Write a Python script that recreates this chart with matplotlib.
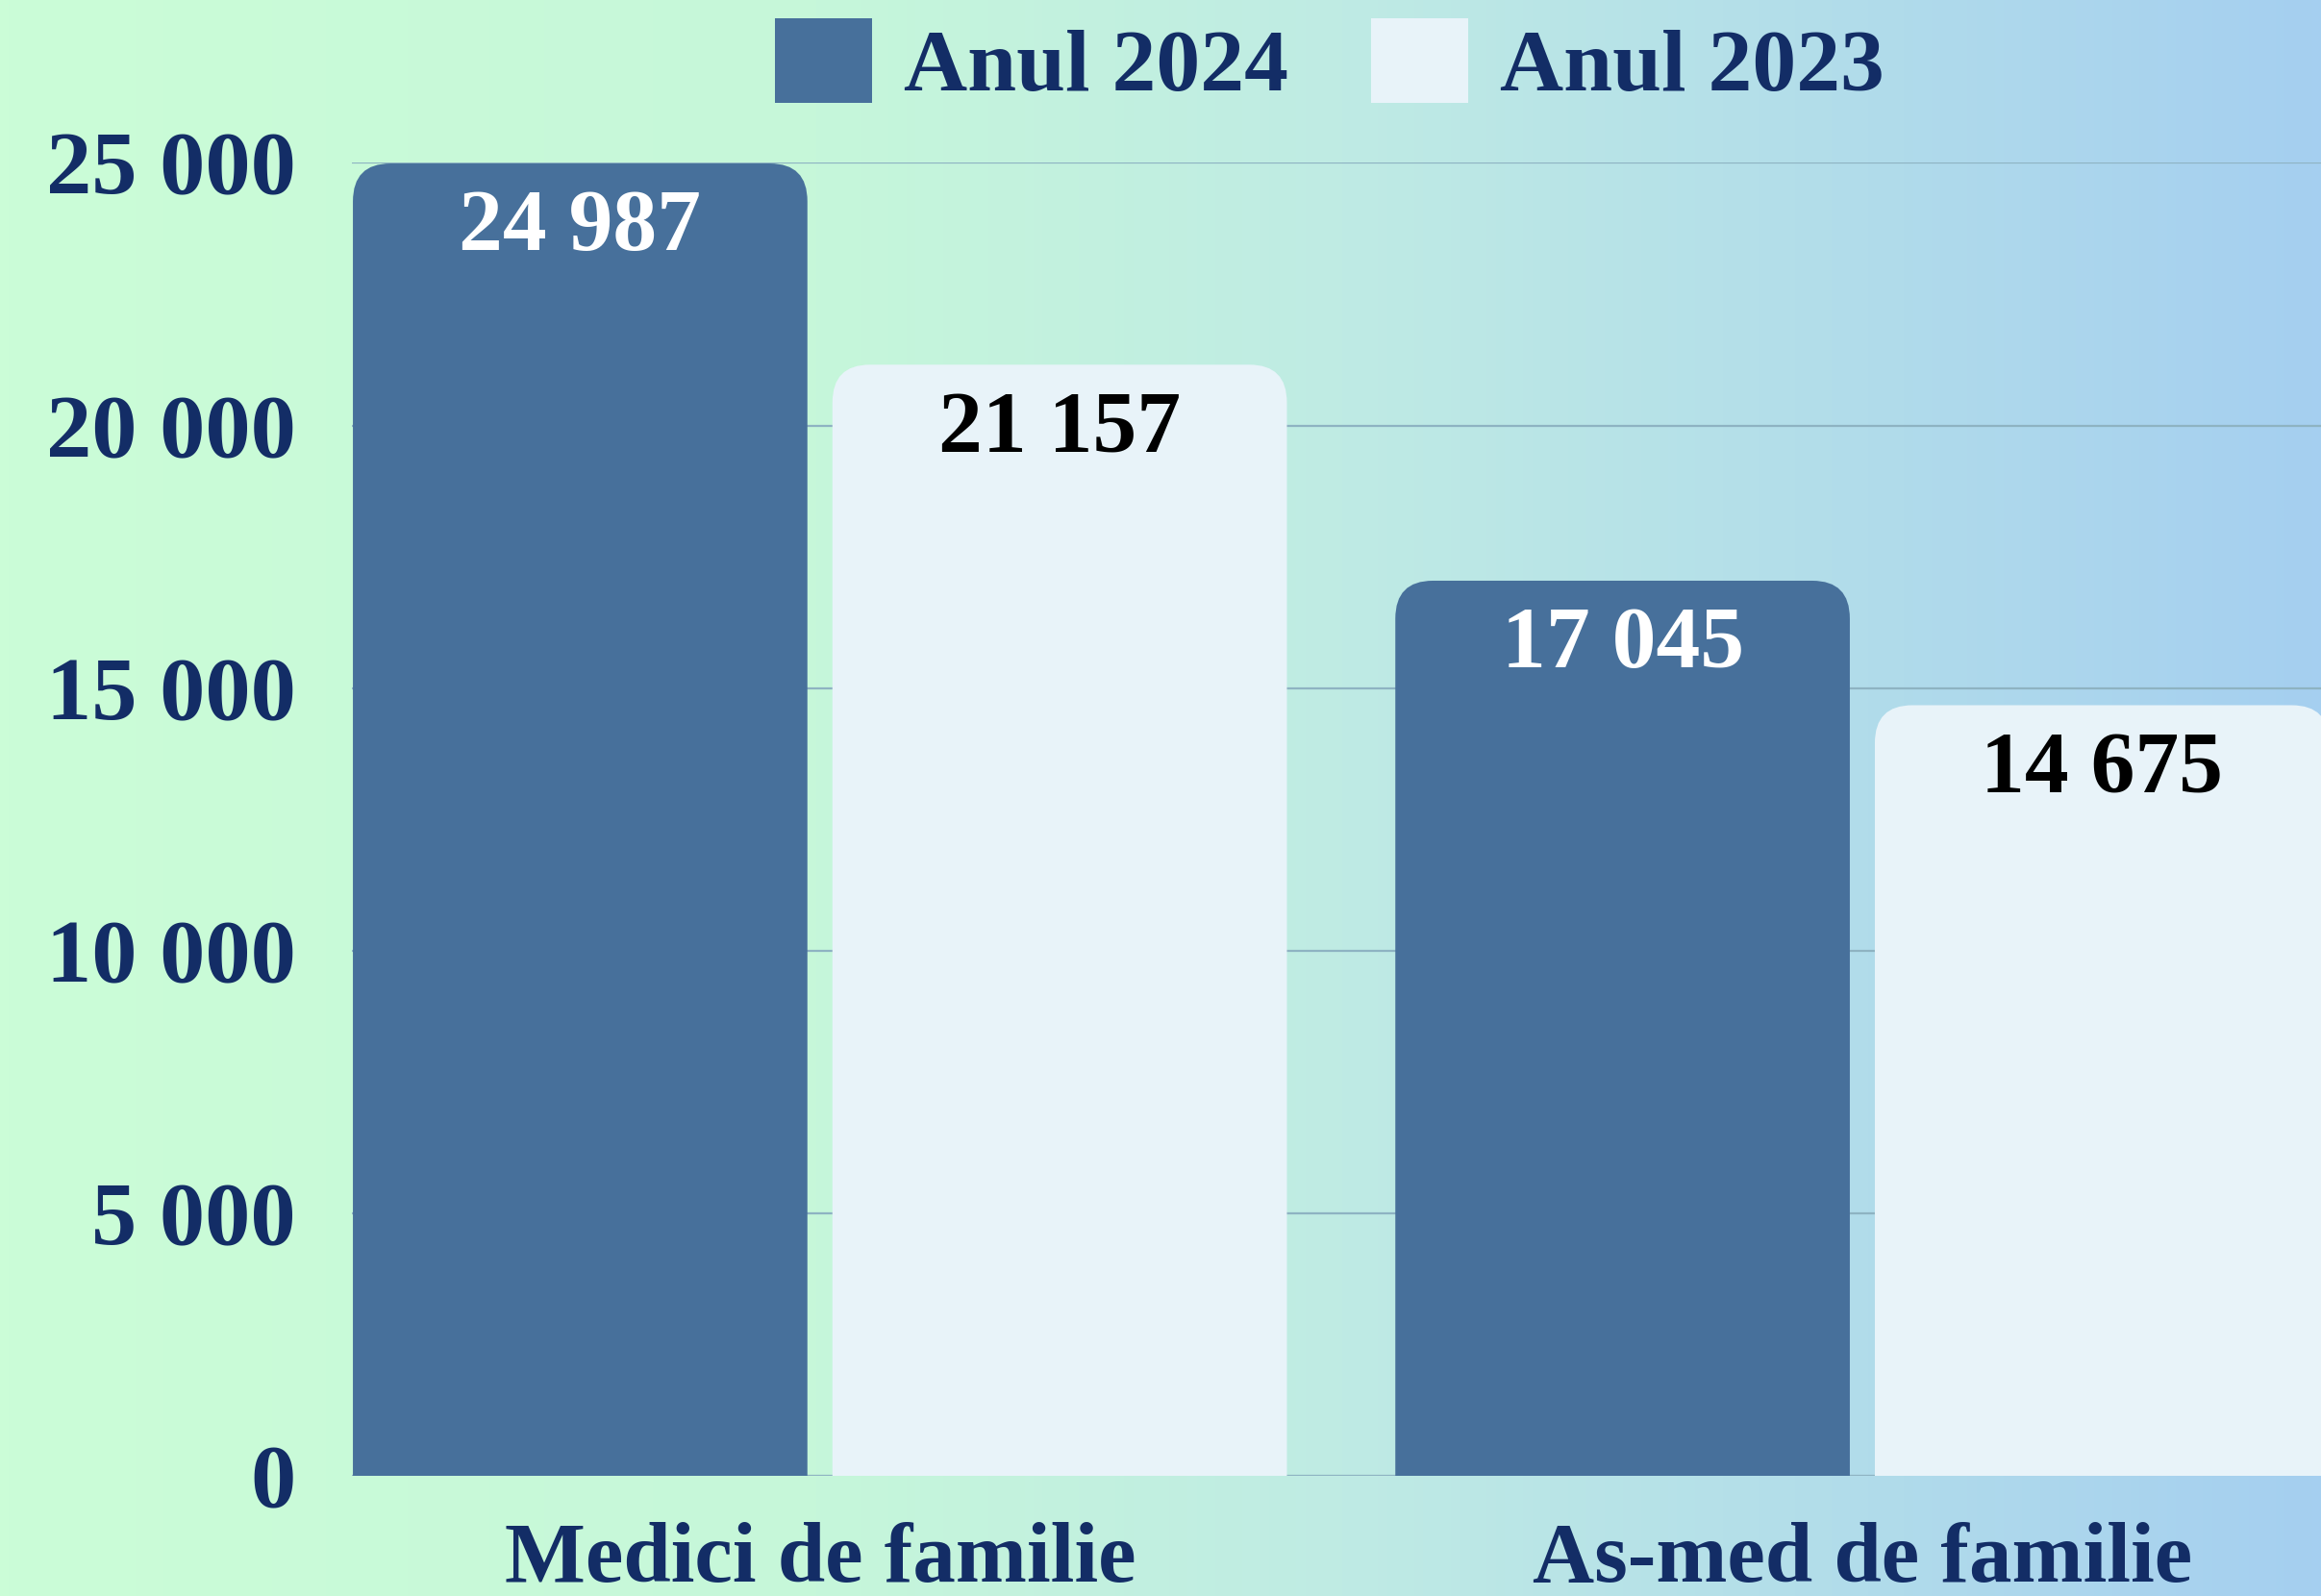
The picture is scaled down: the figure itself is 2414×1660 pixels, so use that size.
import numpy as np
import matplotlib
matplotlib.use("Agg")
import matplotlib.pyplot as plt
from matplotlib.patches import FancyBboxPatch, Patch
from matplotlib.colors import LinearSegmentedColormap

categories = ["Medici de familie", "As-med de familie"]
series_names = ["Anul 2024", "Anul 2023"]
values_2024 = [24987, 17045]
values_2023 = [21157, 14675]
value_labels_2024 = ["24 987", "17 045"]
value_labels_2023 = ["21 157", "14 675"]
yticks = [0, 5000, 10000, 15000, 20000, 25000]
ytick_labels = ["0", "5 000", "10 000", "15 000", "20 000", "25 000"]

DARK = "#47709B"
LIGHT = "#E8F3F9"
NAVY = "#132D66"
GRID = "#8EB3C2"
FONT = ["Liberation Serif", "DejaVu Serif"]

fig = plt.figure(figsize=(24.14, 16.6), dpi=100)

# gradient background
bg = fig.add_axes([0, 0, 1, 1], zorder=-10)
cmap = LinearSegmentedColormap.from_list(
    "bg", [(0.0, "#CBFDD7"), (0.35, "#C6F7DA"), (0.58, "#BFEBE4"), (1.0, "#A5CFF0")])
bg.imshow(np.linspace(0, 1, 512)[None, :], aspect="auto", cmap=cmap,
          extent=[0, 1, 0, 1])
bg.set_axis_off()

ax = fig.add_axes([0.1516, 0.0751, 0.8484, 0.8229])
ax.patch.set_alpha(0)

width = 0.436
off = 0.230
x = np.arange(len(categories))
ax.set_xlim(-0.449, 1.440)
ax.set_ylim(0, 25000)

ax.set_yticks(yticks, ytick_labels)
for y in yticks:
    ax.axhline(y, color=GRID, lw=1.6, zorder=0)

rad_x = 0.036
aspect = 20000


def rbar(xc, val, color):
    p = FancyBboxPatch((xc - width / 2, -3000), width, val + 3000,
                       boxstyle=f"round,pad=0,rounding_size={rad_x}",
                       mutation_aspect=aspect, facecolor=color,
                       edgecolor="none", zorder=2)
    ax.add_patch(p)
    p.set_clip_path(ax.patch)
    return p


for i in range(len(categories)):
    rbar(x[i] - off, values_2024[i], DARK)
    rbar(x[i] + off, values_2023[i], LIGHT)
    ax.text(x[i] - off, values_2024[i] - 1250, value_labels_2024[i],
            ha="center", va="center", color="white", fontsize=66,
            fontweight="bold", family=FONT, zorder=3)
    ax.text(x[i] + off, values_2023[i] - 1250, value_labels_2023[i],
            ha="center", va="center", color="black", fontsize=66,
            fontweight="bold", family=FONT, zorder=3)

ax.set_xticks(x, categories)
ax.tick_params(axis="both", length=0)
ax.tick_params(axis="y", pad=42)
ax.tick_params(axis="x", pad=34)
for lab in ax.get_yticklabels():
    lab.set_fontsize(68)
for lab in ax.get_xticklabels():
    lab.set_fontsize(64)
for lab in ax.get_yticklabels() + ax.get_xticklabels():
    lab.set_fontweight("bold")
    lab.set_family(FONT)
    lab.set_color(NAVY)
for s in ax.spines.values():
    s.set_visible(False)

handles = [Patch(facecolor=DARK, edgecolor="none"),
           Patch(facecolor=LIGHT, edgecolor="none")]
leg = fig.legend(handles, series_names, loc="center",
                 bbox_to_anchor=(0.573, 0.960), ncol=2, frameon=False,
                 prop={"family": FONT, "weight": "bold", "size": 66},
                 handlelength=1.1, handleheight=1.1, handletextpad=0.36,
                 columnspacing=0.94, borderpad=0, borderaxespad=0)
for t in leg.get_texts():
    t.set_color(NAVY)

fig.savefig("out.png", dpi=100)
